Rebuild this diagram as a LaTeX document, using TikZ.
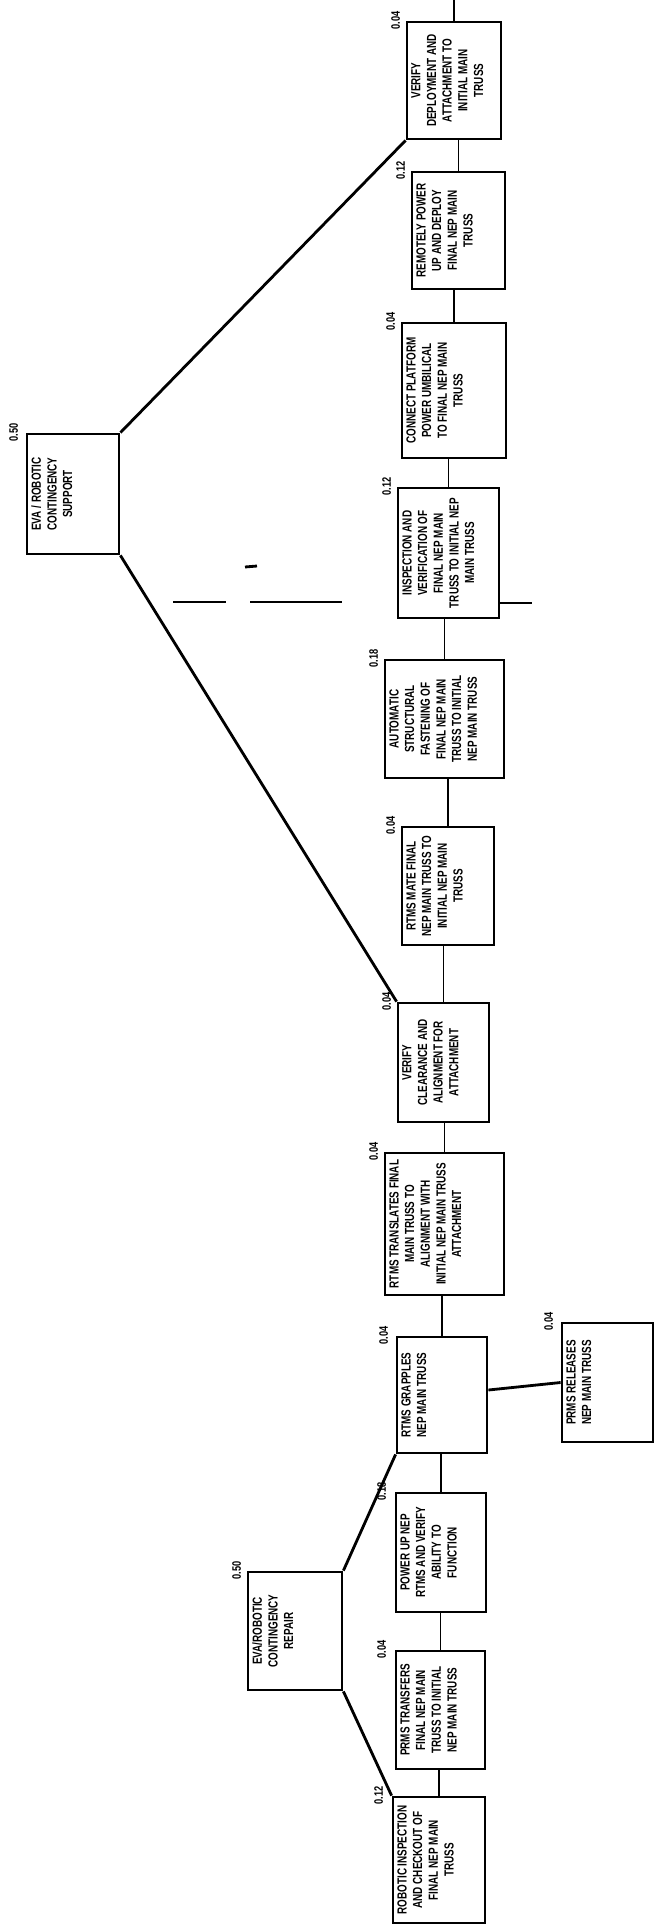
\documentclass[tikz,border=0pt]{standalone}
\usepackage{fontspec}
\newfontfamily\boxfont{Liberation Sans}[FakeStretch=0.75]
\usetikzlibrary{calc}

% text of a task box: fixed size, lines start at the top
\newcommand{\boxtxt}[3]{\parbox[c][#2][t]{#1}{\centering\vspace*{2.5pt}#3}}

\tikzset{
  task/.style={draw, line width=1.6pt, rotate=90, inner sep=0pt,
    font=\boxfont\bfseries\fontsize{7.5}{8.9}\selectfont},
  wt/.style={rotate=90, inner sep=0pt, font=\boxfont\bfseries\fontsize{7}{7}\selectfont},
  link/.style={line width=1.1pt},
  branch/.style={line width=1.6pt}
}

\begin{document}
\begin{tikzpicture}[x=0.02cm, y=-0.02cm]
  \useasboundingbox (0,0) rectangle (654,1925);

  % top level
  \node[task] (sup) at (73,494) {\boxtxt{2.40cm}{1.84cm}{EVA / ROBOTIC\\CONTINGENCY\\SUPPORT}};
  \node[task] (rep) at (295,1631) {\boxtxt{2.36cm}{1.88cm}{EVA/ROBOTIC\\CONTINGENCY\\REPAIR}};

  % task chain, last step on top
  \node[task] (b1) at (454,80.5) {\boxtxt{2.34cm}{1.88cm}{VERIFY\\DEPLOYMENT AND\\ATTACHMENT TO\\INITIAL MAIN\\TRUSS}};
  \node[task] (b2) at (458.5,230.5) {\boxtxt{2.34cm}{1.86cm}{REMOTELY POWER\\UP AND DEPLOY\\FINAL NEP MAIN\\TRUSS}};
  \node[task] (b3) at (454,390.5) {\boxtxt{2.70cm}{2.08cm}{CONNECT PLATFORM\\POWER UMBILICAL\\TO FINAL NEP MAIN\\TRUSS}};
  \node[task] (b4) at (448.5,553) {\boxtxt{2.60cm}{2.02cm}{INSPECTION AND\\VERIFICATION OF\\FINAL NEP MAIN\\TRUSS TO INITIAL NEP\\MAIN TRUSS}};
  \node[task] (b5) at (444.5,719) {\boxtxt{2.36cm}{2.38cm}{AUTOMATIC\\STRUCTURAL\\FASTENING OF\\FINAL NEP MAIN\\TRUSS  TO INITIAL\\NEP MAIN TRUSS}};
  \node[task] (b6) at (448,886) {\boxtxt{2.36cm}{1.84cm}{RTMS MATE FINAL\\NEP MAIN TRUSS TO\\INITIAL NEP MAIN\\TRUSS}};
  \node[task] (b7) at (443.5,1062.5) {\boxtxt{2.38cm}{1.82cm}{VERIFY\\CLEARANCE AND\\ALIGNMENT FOR\\ATTACHMENT}};
  \node[task] (b8) at (444.5,1224) {\boxtxt{2.84cm}{2.38cm}{RTMS TRANSLATES FINAL\\MAIN TRUSS TO\\ALIGNMENT WITH\\INITIAL NEP MAIN TRUSS\\ATTACHMENT}};
  \node[task] (b9) at (442,1395) {\boxtxt{2.32cm}{1.80cm}{RTMS GRAPPLES\\NEP MAIN TRUSS}};
  \node[task] (rel) at (607.5,1382.5) {\boxtxt{2.38cm}{1.82cm}{PRMS RELEASES\\NEP MAIN TRUSS}};
  \node[task] (b10) at (441,1552.5) {\boxtxt{2.38cm}{1.80cm}{POWER UP NEP\\RTMS AND VERIFY\\ABILITY TO\\FUNCTION}};
  \node[task] (b11) at (440.5,1710) {\boxtxt{2.36cm}{1.78cm}{PRMS TRANSFERS\\FINAL NEP MAIN\\TRUSS TO INITIAL\\NEP MAIN TRUSS}};
  \node[task] (b12) at (439,1860) {\boxtxt{2.52cm}{1.84cm}{ROBOTIC INSPECTION\\AND CHECKOUT OF\\FINAL NEP MAIN\\TRUSS}};

  % weights
  \node[wt] (wsup) at ([xshift=-0.24cm]sup.north east) {0.50};
  \node[wt] (wrep) at ([xshift=-0.2cm]rep.north east) {0.50};
  \node[wt] (w1) at ([xshift=-0.2cm]b1.north east) {0.04};
  \node[wt] (w2) at ([xshift=-0.2cm]b2.north east) {0.12};
  \node[wt] (w3) at ([xshift=-0.2cm]b3.north east) {0.04};
  \node[wt] (w4) at ([xshift=-0.2cm]b4.north east) {0.12};
  \node[wt] (w5) at ([xshift=-0.2cm]b5.north east) {0.18};
  \node[wt] (w6) at ([xshift=-0.2cm]b6.north east) {0.04};
  \node[wt] (w7) at ([xshift=-0.2cm]b7.north east) {0.04};
  \node[wt] (w8) at ([xshift=-0.2cm]b8.north east) {0.04};
  \node[wt] (w9) at ([xshift=-0.24cm]b9.north east) {0.04};
  \node[wt] (wrel) at ([xshift=-0.24cm]rel.north east) {0.04};
  \node[wt] (w10) at ([xshift=-0.26cm]b10.north east) {0.18};
  \node[wt] (w11) at ([xshift=-0.26cm]b11.north east) {0.04};
  \node[wt] (w12) at ([xshift=-0.26cm]b12.north east) {0.12};

  % chain links
  \coordinate (top) at (455,0);
  \draw[link] (b1.east) -- (b1.east |- top);
  \draw[link] (b2.east) -- (b2.east |- b1.west);
  \draw[link] (b3.east) -- (b3.east |- b2.west);
  \draw[link] (b4.east) -- (b4.east |- b3.west);
  \draw[link] (b5.east) -- (b5.east |- b4.west);
  \draw[link] (b6.east) -- (b6.east |- b5.west);
  \draw[link] (b7.east) -- (b7.east |- b6.west);
  \draw[link] (b8.east) -- (b8.east |- b7.west);
  \draw[link] (b9.east) -- (b9.east |- b8.west);
  \draw[link] (b10.east) -- (b10.east |- b9.west);
  \draw[link] (b11.east) -- (b11.east |- b10.west);
  \draw[link] (b12.east) -- (b12.east |- b11.west);

  % branches to the top level
  \draw[branch] (sup.south east) -- (b1.north west);
  \draw[branch] (sup.south west) -- (b7.north east);
  \draw[branch] (rep.south east) -- (b9.north west);
  \draw[branch] (rep.south west) -- (b12.north east);
  \draw[branch] ([yshift=0.1cm]b9.south) -- (rel.north);

  % broken rule across the sheet
  \draw[line width=0.9pt] (173,602) -- (226,602);
  \draw[line width=0.9pt] (250,602) -- (342,602);
  \draw[line width=0.9pt] (499,603) -- (532,603);
  \draw[line width=1.6pt] (245,567) -- (257,566);
\end{tikzpicture}
\end{document}
